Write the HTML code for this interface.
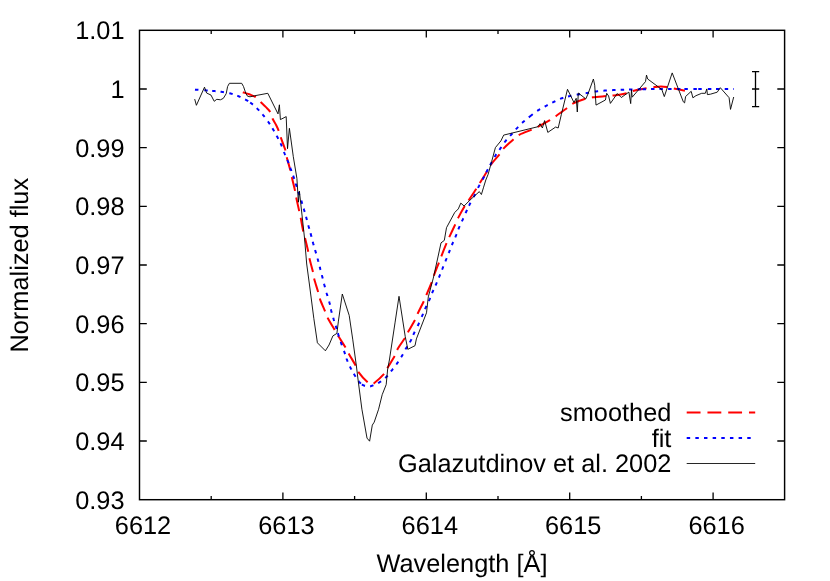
<!DOCTYPE html>
<html><head><meta charset="utf-8"><title>plot</title>
<style>html,body{margin:0;padding:0;background:#fff;}svg{display:block;will-change:transform;}</style>
</head><body>
<svg width="830" height="581" viewBox="0 0 830 581">
<rect width="830" height="581" fill="#fff"/>
<path d="M211.2,499.7 v-3.8 M211.2,30.3 v3.8 M282.9,499.7 v-7.3 M282.9,30.3 v7.3 M354.6,499.7 v-3.8 M354.6,30.3 v3.8 M426.3,499.7 v-7.3 M426.3,30.3 v7.3 M498.0,499.7 v-3.8 M498.0,30.3 v3.8 M569.7,499.7 v-7.3 M569.7,30.3 v7.3 M641.4,499.7 v-3.8 M641.4,30.3 v3.8 M713.1,499.7 v-7.3 M713.1,30.3 v7.3 M139.5,89.0 h7.3 M784.6,89.0 h-7.3 M139.5,147.7 h7.3 M784.6,147.7 h-7.3 M139.5,206.3 h7.3 M784.6,206.3 h-7.3 M139.5,265.0 h7.3 M784.6,265.0 h-7.3 M139.5,323.7 h7.3 M784.6,323.7 h-7.3 M139.5,382.3 h7.3 M784.6,382.3 h-7.3 M139.5,441.0 h7.3 M784.6,441.0 h-7.3" stroke="#000" stroke-width="1.3" fill="none"/>
<path d="M242.80,92.20 C243.88,92.55 247.13,93.48 249.30,94.30 C251.47,95.12 253.93,95.83 255.80,97.10 C257.67,98.37 258.85,100.27 260.50,101.90 C262.15,103.53 264.07,105.22 265.70,106.90 C267.33,108.58 269.17,110.07 270.30,112.00 C271.43,113.93 271.53,116.33 272.50,118.50 C273.47,120.67 275.07,122.95 276.10,125.00 C277.13,127.05 277.88,128.63 278.70,130.80 C279.52,132.97 279.85,134.65 281.00,138.00 C282.15,141.35 284.63,147.67 285.60,150.90 C286.57,154.13 286.00,154.15 286.80,157.40 C287.60,160.65 289.50,166.83 290.40,170.40 C291.30,173.97 291.43,175.43 292.20,178.80 C292.97,182.17 294.32,187.42 295.00,190.60 C295.68,193.78 295.60,194.48 296.30,197.90 C297.00,201.32 298.45,207.68 299.20,211.10 C299.95,214.52 300.13,215.05 300.80,218.40 C301.47,221.75 302.47,227.82 303.20,231.20 C303.93,234.58 304.38,235.40 305.20,238.70 C306.02,242.00 307.37,247.62 308.10,251.00 C308.83,254.38 308.82,255.62 309.60,259.00 C310.38,262.38 312.02,267.93 312.80,271.30 C313.58,274.67 313.43,275.83 314.30,279.20 C315.17,282.57 317.05,288.18 318.00,291.50 C318.95,294.82 318.82,295.77 320.00,299.10 C321.18,302.43 323.77,308.27 325.10,311.50 C326.43,314.73 326.38,315.40 328.00,318.50 C329.62,321.60 333.07,327.13 334.80,330.10 C336.53,333.07 336.60,333.38 338.40,336.30 C340.20,339.22 343.80,344.58 345.60,347.60 C347.40,350.62 347.53,351.42 349.20,354.40 C350.87,357.38 354.02,362.52 355.60,365.50 C357.18,368.48 356.68,369.48 358.70,372.30 C360.72,375.12 365.65,380.47 367.70,382.40 C369.75,384.33 369.85,383.83 371.00,383.90 C372.15,383.97 372.38,384.50 374.60,382.80 C376.82,381.10 382.08,376.28 384.30,373.70 C386.52,371.12 386.15,370.28 387.90,367.30 C389.65,364.32 393.13,358.92 394.80,355.80 C396.47,352.68 396.10,351.73 397.90,348.60 C399.70,345.47 403.82,339.92 405.60,337.00 C407.38,334.08 407.00,334.02 408.60,331.10 C410.20,328.18 413.62,322.55 415.20,319.50 C416.78,316.45 416.65,315.88 418.10,312.80 C419.55,309.72 422.45,304.13 423.90,301.00 C425.35,297.87 425.47,297.22 426.80,294.00 C428.13,290.78 430.65,284.95 431.90,281.70 C433.15,278.45 433.10,277.75 434.30,274.50 C435.50,271.25 437.85,265.43 439.10,262.20 C440.35,258.97 440.53,258.32 441.80,255.10 C443.07,251.88 445.40,246.02 446.70,242.90 C448.00,239.78 448.15,239.53 449.60,236.40 C451.05,233.27 453.95,227.23 455.40,224.10 C456.85,220.97 456.73,220.62 458.30,217.60 C459.87,214.58 462.98,209.02 464.80,206.00 C466.62,202.98 467.27,202.38 469.20,199.50 C471.13,196.62 474.55,191.57 476.40,188.70 C478.25,185.83 478.47,185.28 480.30,182.30 C482.13,179.32 485.50,173.92 487.40,170.80 C489.30,167.68 489.65,166.37 491.70,163.60 C493.75,160.83 497.70,156.73 499.70,154.20 C501.70,151.67 501.42,150.87 503.70,148.40 C505.98,145.93 510.75,141.70 513.40,139.40 C516.05,137.10 516.53,136.23 519.60,134.60 C522.67,132.97 528.62,130.98 531.80,129.60 C534.98,128.22 535.68,127.88 538.70,126.30 C541.72,124.72 546.95,121.85 549.90,120.10 C552.85,118.35 553.58,117.78 556.40,115.80 C559.22,113.82 563.98,110.27 566.80,108.20 C569.62,106.13 570.17,104.98 573.30,103.40 C576.43,101.82 582.35,99.72 585.60,98.70 C588.85,97.68 589.43,97.73 592.80,97.30 C596.17,96.87 602.23,96.42 605.80,96.10 C609.37,95.78 610.58,95.92 614.20,95.40 C617.82,94.88 624.05,93.82 627.50,93.00 C630.95,92.18 631.68,91.30 634.90,90.50 C638.12,89.70 643.53,88.77 646.80,88.20 C650.07,87.63 652.13,87.38 654.50,87.10 C656.87,86.82 658.92,86.50 661.00,86.50 C663.08,86.50 664.63,86.73 667.00,87.10 C669.37,87.47 672.22,88.10 675.20,88.70 C678.18,89.30 683.28,90.37 684.90,90.70" stroke="#ff0000" stroke-width="2" fill="none" stroke-dasharray="13.84 6.92"/>
<path d="M194.98,89.61 L195.04,89.62 L195.31,89.63 L195.61,89.65 L195.95,89.68 L196.32,89.70 L196.71,89.73 L197.12,89.75 L197.56,89.78 L198.01,89.81 L198.43,89.84 M204.26,90.23 L204.36,90.24 L204.79,90.27 L205.20,90.30 L205.60,90.33 L205.98,90.36 L206.37,90.39 L206.75,90.41 L207.12,90.44 L207.49,90.47 L207.71,90.48 M212.18,90.84 L212.47,90.87 L212.82,90.90 L213.18,90.93 L213.54,90.97 L213.90,91.00 L214.26,91.04 L214.63,91.07 L214.99,91.11 L215.35,91.14 L215.62,91.17 M220.53,91.71 L220.81,91.75 L221.17,91.80 L221.53,91.84 L221.89,91.89 L222.24,91.95 L222.60,92.00 L222.96,92.05 L223.31,92.11 L223.67,92.16 L223.95,92.21 M229.32,93.18 L229.62,93.25 L229.96,93.33 L230.31,93.42 L230.65,93.51 L231.00,93.60 L231.35,93.70 L231.69,93.79 L232.04,93.89 L232.38,94.00 L232.66,94.08 M237.27,95.70 L237.53,95.81 L237.86,95.94 L238.20,96.08 L238.53,96.22 L238.87,96.36 L239.20,96.50 L239.53,96.64 L239.87,96.79 L240.21,96.94 L240.45,97.06 M245.12,99.41 L245.18,99.44 L245.49,99.61 L245.78,99.77 L246.07,99.93 L246.36,100.09 L246.63,100.25 L246.90,100.40 L247.16,100.55 L247.40,100.69 L247.64,100.83 L247.87,100.96 L248.09,101.09 L248.13,101.12 M250.20,102.47 L250.38,102.60 L250.57,102.74 L250.76,102.89 L250.96,103.04 L251.16,103.19 L251.37,103.35 L251.58,103.52 L251.80,103.70 L252.03,103.88 L252.26,104.07 L252.49,104.26 L252.72,104.46 L252.91,104.62 M256.73,108.13 L256.95,108.34 L257.20,108.59 L257.45,108.85 L257.70,109.10 L257.95,109.36 L258.20,109.62 L258.46,109.88 L258.72,110.15 L258.97,110.42 L259.15,110.61 M262.45,114.29 L262.59,114.45 L262.84,114.74 L263.08,115.04 L263.33,115.33 L263.56,115.61 L263.80,115.90 L264.03,116.19 L264.26,116.47 L264.49,116.75 L264.65,116.96 M267.92,121.38 L268.09,121.63 L268.29,121.92 L268.50,122.21 L268.70,122.50 L268.90,122.80 L269.10,123.10 L269.30,123.39 L269.50,123.69 L269.70,123.99 L269.86,124.24 M272.43,128.31 L272.59,128.58 L272.77,128.88 L272.96,129.19 L273.14,129.49 L273.32,129.80 L273.50,130.10 L273.68,130.40 L273.86,130.70 L274.03,131.00 L274.20,131.29 M276.69,135.77 L276.70,135.80 L276.86,136.10 L277.02,136.40 L277.18,136.70 L277.34,137.00 L277.50,137.30 L277.66,137.60 L277.81,137.89 L277.97,138.19 L278.12,138.48 L278.28,138.77 L278.31,138.83 M280.54,143.26 L280.66,143.51 L280.80,143.84 L280.95,144.17 L281.10,144.50 L281.25,144.84 L281.40,145.19 L281.54,145.55 L281.69,145.91 L281.84,146.27 L281.90,146.44 M283.97,151.89 L284.02,152.04 L284.17,152.41 L284.31,152.78 L284.46,153.14 L284.60,153.50 L284.74,153.85 L284.89,154.20 L285.03,154.55 L285.18,154.89 L285.27,155.10 M287.34,159.90 L287.46,160.18 L287.60,160.51 L287.73,160.84 L287.87,161.17 L288.00,161.50 L288.13,161.83 L288.26,162.16 L288.39,162.49 L288.51,162.82 L288.62,163.11 M290.31,167.77 L290.43,168.09 L290.55,168.42 L290.66,168.75 L290.78,169.07 L290.90,169.40 L291.02,169.73 L291.14,170.05 L291.26,170.38 L291.37,170.70 L291.49,171.02 L291.49,171.02 M293.14,175.56 L293.25,175.87 L293.36,176.20 L293.47,176.53 L293.59,176.87 L293.70,177.20 L293.81,177.54 L293.92,177.87 L294.03,178.21 L294.14,178.55 L294.24,178.84 M295.68,183.50 L295.76,183.76 L295.86,184.11 L295.97,184.46 L296.08,184.81 L296.19,185.15 L296.30,185.50 L296.41,185.85 L296.52,186.19 L296.63,186.54 L296.72,186.80 M298.35,191.81 L298.43,192.06 L298.54,192.41 L298.66,192.76 L298.77,193.10 L298.89,193.45 L299.00,193.80 L299.12,194.15 L299.23,194.50 L299.35,194.85 L299.43,195.09 M301.27,200.55 L301.36,200.82 L301.47,201.16 L301.58,201.51 L301.69,201.86 L301.80,202.20 L301.91,202.54 L302.01,202.89 L302.12,203.23 L302.22,203.57 L302.31,203.85 M303.72,208.64 L303.81,208.95 L303.91,209.29 L304.00,209.63 L304.10,209.96 L304.20,210.30 L304.30,210.64 L304.40,210.97 L304.49,211.31 L304.59,211.64 L304.68,211.96 M306.04,216.73 L306.12,217.02 L306.21,217.36 L306.31,217.71 L306.40,218.05 L306.50,218.40 L306.60,218.75 L306.69,219.10 L306.79,219.46 L306.88,219.81 L306.95,220.07 M308.35,225.33 L308.42,225.60 L308.52,225.95 L308.61,226.30 L308.71,226.65 L308.80,227.00 L308.89,227.34 L308.99,227.69 L309.08,228.03 L309.17,228.36 L309.26,228.67 M310.55,233.33 L310.63,233.64 L310.73,233.98 L310.82,234.32 L310.91,234.66 L311.00,235.00 L311.09,235.34 L311.18,235.69 L311.27,236.04 L311.36,236.39 L311.44,236.67 M312.75,241.83 L312.82,242.09 L312.92,242.45 L313.01,242.80 L313.10,243.15 L313.20,243.50 L313.30,243.85 L313.39,244.19 L313.49,244.54 L313.59,244.88 L313.67,245.16 M315.11,250.04 L315.20,250.33 L315.30,250.67 L315.40,251.01 L315.50,251.35 L315.60,251.70 L315.70,252.05 L315.80,252.39 L315.90,252.74 L316.00,253.09 L316.08,253.36 M317.54,258.43 L317.62,258.70 L317.71,259.05 L317.81,259.40 L317.91,259.75 L318.00,260.10 L318.09,260.45 L318.19,260.79 L318.28,261.14 L318.37,261.49 L318.44,261.77 M319.68,266.72 L319.75,267.01 L319.83,267.36 L319.92,267.71 L320.01,268.05 L320.10,268.40 L320.19,268.75 L320.28,269.10 L320.37,269.44 L320.46,269.79 L320.54,270.07 M321.87,275.13 L321.93,275.38 L322.02,275.73 L322.12,276.09 L322.21,276.44 L322.30,276.80 L322.39,277.16 L322.48,277.51 L322.57,277.87 L322.66,278.23 L322.72,278.48 M324.06,283.83 L324.12,284.03 L324.21,284.40 L324.31,284.77 L324.40,285.13 L324.50,285.50 L324.60,285.87 L324.70,286.24 L324.80,286.60 L324.90,286.97 L324.95,287.17 M326.52,292.74 L326.57,292.93 L326.68,293.30 L326.79,293.66 L326.89,294.03 L327.00,294.40 L327.11,294.77 L327.22,295.13 L327.33,295.50 L327.44,295.87 L327.50,296.06 M329.14,301.43 L329.22,301.70 L329.32,302.05 L329.41,302.40 L329.51,302.75 L329.60,303.10 L329.69,303.44 L329.77,303.78 L329.85,304.12 L329.93,304.46 L330.00,304.78 M330.91,309.31 L330.92,309.34 L330.99,309.66 L331.06,309.99 L331.14,310.33 L331.22,310.66 L331.30,311.00 L331.39,311.34 L331.48,311.68 L331.57,312.03 L331.66,312.38 L331.74,312.67 M333.20,317.74 L333.29,318.02 L333.39,318.37 L333.49,318.71 L333.60,319.06 L333.70,319.40 L333.80,319.74 L333.91,320.08 L334.01,320.42 L334.11,320.76 L334.20,321.05 M335.69,325.75 L335.70,325.77 L335.80,326.10 L335.90,326.43 L336.00,326.75 L336.10,327.08 L336.20,327.40 L336.30,327.72 L336.39,328.04 L336.48,328.35 L336.58,328.67 L336.67,328.97 L336.69,329.06 M337.89,333.25 L337.90,333.27 L338.00,333.59 L338.09,333.91 L338.19,334.23 L338.30,334.56 L338.40,334.90 L338.51,335.24 L338.62,335.59 L338.73,335.94 L338.84,336.29 L338.93,336.55 M340.73,341.97 L340.81,342.18 L340.93,342.54 L341.06,342.90 L341.18,343.25 L341.30,343.60 L341.42,343.94 L341.54,344.28 L341.66,344.62 L341.78,344.95 L341.88,345.23 M343.99,350.91 L344.08,351.16 L344.20,351.50 L344.32,351.85 L344.44,352.20 L344.56,352.55 L344.68,352.90 L344.80,353.26 L344.91,353.62 L345.03,353.99 L345.10,354.19 M346.50,358.48 L346.59,358.72 L346.71,359.07 L346.84,359.42 L346.97,359.76 L347.10,360.10 L347.23,360.44 L347.36,360.77 L347.50,361.10 L347.63,361.43 L347.74,361.71 M349.89,366.47 L350.03,366.76 L350.19,367.07 L350.34,367.39 L350.50,367.70 L350.66,368.01 L350.82,368.33 L350.98,368.65 L351.15,368.96 L351.32,369.28 L351.46,369.55 M353.81,373.72 L353.97,373.99 L354.15,374.30 L354.33,374.60 L354.52,374.90 L354.70,375.20 L354.88,375.50 L355.07,375.80 L355.26,376.11 L355.45,376.41 L355.61,376.67 M358.55,381.07 L358.56,381.08 L358.75,381.32 L358.93,381.56 L359.12,381.78 L359.30,382.00 L359.48,382.21 L359.65,382.40 L359.83,382.60 L359.99,382.78 L360.16,382.95 L360.32,383.12 L360.49,383.28 L360.65,383.44 L360.81,383.59 L360.86,383.64 M361.89,384.46 L361.94,384.49 L362.11,384.60 L362.28,384.71 L362.46,384.82 L362.64,384.92 L362.82,385.02 L363.01,385.11 L363.20,385.21 L363.40,385.30 L363.61,385.39 L363.82,385.47 L364.05,385.55 L364.28,385.63 L364.53,385.70 L364.77,385.76 L365.02,385.83 L365.04,385.83 M370.16,386.45 L370.17,386.45 L370.23,386.43 L370.31,386.40 L370.40,386.36 L370.51,386.32 L370.62,386.27 L370.76,386.21 L370.92,386.15 L371.10,386.08 L371.30,386.00 L371.53,385.91 L371.77,385.82 L372.03,385.71 L372.32,385.60 L372.61,385.49 L372.92,385.36 L373.25,385.24 L373.38,385.18 M378.10,383.06 L378.31,382.95 L378.65,382.77 L378.98,382.59 L379.30,382.40 L379.61,382.21 L379.92,382.02 L380.22,381.83 L380.53,381.63 L380.83,381.44 L381.06,381.28 M385.21,378.03 L385.40,377.86 L385.67,377.61 L385.93,377.35 L386.20,377.10 L386.46,376.84 L386.72,376.58 L386.98,376.30 L387.24,376.03 L387.49,375.75 L387.64,375.58 M390.94,371.46 L391.09,371.27 L391.32,370.97 L391.54,370.68 L391.77,370.39 L392.00,370.10 L392.23,369.82 L392.45,369.53 L392.67,369.25 L392.89,368.98 L393.08,368.75 M396.31,364.51 L396.48,364.28 L396.68,363.99 L396.89,363.70 L397.10,363.40 L397.31,363.10 L397.52,362.80 L397.73,362.50 L397.94,362.19 L398.14,361.88 L398.28,361.67 M401.11,357.28 L401.22,357.09 L401.42,356.77 L401.61,356.45 L401.81,356.12 L402.00,355.80 L402.19,355.48 L402.38,355.15 L402.57,354.82 L402.75,354.49 L402.86,354.30 M405.46,349.41 L405.58,349.18 L405.76,348.86 L405.94,348.53 L406.12,348.22 L406.30,347.90 L406.48,347.59 L406.67,347.28 L406.85,346.97 L407.04,346.66 L407.19,346.42 M409.85,342.21 L409.85,342.20 L410.03,341.90 L410.20,341.60 L410.37,341.30 L410.54,341.00 L410.70,340.70 L410.86,340.40 L411.01,340.09 L411.16,339.79 L411.30,339.49 L411.45,339.19 L411.46,339.15 M413.29,334.88 L413.42,334.58 L413.56,334.26 L413.70,333.95 L413.85,333.62 L414.00,333.30 L414.16,332.97 L414.31,332.65 L414.47,332.32 L414.64,331.99 L414.76,331.75 M417.71,325.92 L417.76,325.83 L417.93,325.47 L418.10,325.10 L418.27,324.73 L418.44,324.35 L418.62,323.97 L418.79,323.59 L418.97,323.19 L419.14,322.80 L419.15,322.78 M421.67,316.93 L421.72,316.81 L421.88,316.43 L422.04,316.06 L422.20,315.70 L422.35,315.34 L422.51,314.99 L422.66,314.64 L422.80,314.30 L422.95,313.96 L423.03,313.75 M425.04,309.05 L425.16,308.78 L425.30,308.46 L425.45,308.13 L425.60,307.80 L425.75,307.47 L425.90,307.14 L426.06,306.80 L426.22,306.47 L426.38,306.14 L426.49,305.90 M428.83,301.05 L428.95,300.80 L429.10,300.46 L429.25,300.13 L429.40,299.80 L429.54,299.47 L429.69,299.14 L429.83,298.81 L429.96,298.48 L430.10,298.15 L430.21,297.87 M432.07,293.16 L432.18,292.89 L432.32,292.56 L432.46,292.23 L432.60,291.90 L432.74,291.57 L432.89,291.24 L433.03,290.90 L433.18,290.57 L433.33,290.24 L433.44,289.99 M435.50,285.48 L435.61,285.23 L435.76,284.90 L435.91,284.56 L436.06,284.23 L436.20,283.90 L436.34,283.57 L436.49,283.24 L436.63,282.91 L436.77,282.58 L436.88,282.31 M438.84,277.60 L438.96,277.32 L439.09,276.99 L439.23,276.66 L439.36,276.33 L439.50,276.00 L439.64,275.67 L439.77,275.34 L439.90,275.01 L440.04,274.67 L440.15,274.40 M442.06,269.61 L442.16,269.35 L442.30,269.01 L442.43,268.67 L442.56,268.34 L442.70,268.00 L442.84,267.66 L442.97,267.32 L443.11,266.98 L443.24,266.64 L443.34,266.39 M445.35,261.40 L445.45,261.17 L445.59,260.83 L445.72,260.48 L445.86,260.14 L446.00,259.80 L446.14,259.46 L446.28,259.12 L446.41,258.77 L446.55,258.43 L446.65,258.20 M448.66,253.21 L448.76,252.96 L448.89,252.62 L449.03,252.28 L449.16,251.94 L449.30,251.60 L449.44,251.26 L449.57,250.93 L449.70,250.59 L449.84,250.25 L449.94,249.99 M451.84,245.20 L451.96,244.93 L452.09,244.59 L452.23,244.26 L452.36,243.93 L452.50,243.60 L452.64,243.27 L452.78,242.94 L452.92,242.61 L453.06,242.28 L453.18,242.01 M455.23,237.30 L455.35,237.02 L455.49,236.69 L455.63,236.36 L455.76,236.03 L455.90,235.70 L456.03,235.37 L456.17,235.04 L456.30,234.70 L456.43,234.37 L456.54,234.09 M458.35,229.30 L458.46,229.03 L458.59,228.70 L458.73,228.36 L458.86,228.03 L459.00,227.70 L459.14,227.37 L459.28,227.04 L459.43,226.71 L459.57,226.38 L459.69,226.11 M461.88,221.37 L461.99,221.14 L462.14,220.81 L462.29,220.47 L462.45,220.14 L462.60,219.80 L462.75,219.46 L462.91,219.12 L463.06,218.78 L463.21,218.43 L463.31,218.22 M465.59,213.08 L465.69,212.85 L465.84,212.51 L465.99,212.17 L466.15,211.83 L466.30,211.50 L466.45,211.17 L466.60,210.84 L466.75,210.52 L466.90,210.20 L467.02,209.93 M468.97,205.78 L469.11,205.50 L469.26,205.18 L469.42,204.86 L469.58,204.55 L469.74,204.22 L469.90,203.90 L470.07,203.57 L470.23,203.25 L470.41,202.92 L470.53,202.69 M473.58,197.09 L473.67,196.93 L473.85,196.59 L474.02,196.25 L474.20,195.90 L474.37,195.55 L474.55,195.20 L474.72,194.84 L474.90,194.49 L475.07,194.12 L475.13,194.00 M478.01,187.88 L478.13,187.63 L478.30,187.30 L478.47,186.97 L478.64,186.66 L478.80,186.34 L478.97,186.04 L479.13,185.73 L479.30,185.43 L479.46,185.14 L479.63,184.85 L479.64,184.83 M482.58,179.57 L482.65,179.43 L482.83,179.09 L483.01,178.74 L483.19,178.39 L483.37,178.03 L483.56,177.67 L483.74,177.31 L483.93,176.95 L484.11,176.58 L484.16,176.49 M486.26,172.35 L486.34,172.20 L486.52,171.85 L486.70,171.50 L486.88,171.16 L487.06,170.82 L487.24,170.48 L487.42,170.14 L487.60,169.81 L487.78,169.48 L487.88,169.29 M490.17,165.12 L490.28,164.91 L490.46,164.59 L490.64,164.26 L490.82,163.93 L491.00,163.60 L491.18,163.27 L491.36,162.93 L491.54,162.60 L491.72,162.26 L491.82,162.08 M494.52,157.09 L494.63,156.89 L494.82,156.56 L495.01,156.24 L495.21,155.92 L495.40,155.60 L495.60,155.28 L495.80,154.97 L496.00,154.66 L496.20,154.35 L496.34,154.15 M499.40,149.81 L499.55,149.60 L499.77,149.30 L499.98,149.00 L500.19,148.70 L500.40,148.40 L500.61,148.10 L500.82,147.79 L501.03,147.49 L501.24,147.18 L501.38,146.97 M504.46,142.48 L504.61,142.27 L504.83,141.97 L505.05,141.68 L505.27,141.39 L505.50,141.10 L505.73,140.81 L505.96,140.53 L506.19,140.25 L506.43,139.97 L506.60,139.77 M510.14,135.88 L510.33,135.67 L510.57,135.41 L510.82,135.14 L511.06,134.87 L511.30,134.60 L511.54,134.33 L511.78,134.06 L512.02,133.78 L512.25,133.51 L512.44,133.30 M515.83,129.38 L516.05,129.14 L516.28,128.88 L516.52,128.62 L516.76,128.36 L517.00,128.10 L517.24,127.85 L517.47,127.59 L517.71,127.35 L517.94,127.10 L518.16,126.86 L518.18,126.84 M522.10,122.93 L522.24,122.81 L522.52,122.55 L522.80,122.30 L523.09,122.04 L523.39,121.78 L523.70,121.51 L524.01,121.25 L524.33,120.98 L524.66,120.70 L524.71,120.66 M528.78,117.38 L528.78,117.38 L529.13,117.11 L529.47,116.84 L529.81,116.57 L530.14,116.31 L530.47,116.05 L530.80,115.80 L531.12,115.55 L531.44,115.30 L531.51,115.25 M530.08,116.36 L530.14,116.31 L530.47,116.05 L530.80,115.80 L531.12,115.55 L531.44,115.30 L531.76,115.05 L532.07,114.80 L532.39,114.55 L532.70,114.31 L532.80,114.23 M537.18,110.95 L537.35,110.84 L537.66,110.62 L537.98,110.41 L538.30,110.20 L538.62,109.99 L538.95,109.79 L539.27,109.59 L539.60,109.39 L539.92,109.20 L540.10,109.09 M544.67,106.61 L544.90,106.49 L545.22,106.32 L545.55,106.15 L545.88,105.97 L546.20,105.80 L546.52,105.63 L546.84,105.46 L547.16,105.29 L547.48,105.12 L547.73,104.99 M552.25,102.66 L552.52,102.53 L552.84,102.37 L553.16,102.21 L553.48,102.06 L553.80,101.90 L554.12,101.74 L554.45,101.59 L554.77,101.43 L555.10,101.27 L555.35,101.14 M560.09,98.93 L560.37,98.82 L560.71,98.68 L561.04,98.55 L561.37,98.42 L561.70,98.30 L562.03,98.18 L562.36,98.07 L562.69,97.95 L563.02,97.85 L563.34,97.74 M568.02,96.49 L568.33,96.42 L568.67,96.34 L569.01,96.26 L569.35,96.18 L569.70,96.10 L570.05,96.02 L570.40,95.94 L570.75,95.86 L571.11,95.78 L571.39,95.73 M576.70,94.71 L576.95,94.66 L577.31,94.59 L577.68,94.53 L578.04,94.46 L578.40,94.40 L578.76,94.34 L579.12,94.27 L579.48,94.21 L579.84,94.15 L580.10,94.11 M585.65,93.22 L585.92,93.18 L586.28,93.12 L586.64,93.06 L587.00,93.00 L587.36,92.94 L587.72,92.88 L588.08,92.81 L588.44,92.75 L588.81,92.68 L589.06,92.64 M594.71,91.64 L594.97,91.60 L595.34,91.55 L595.70,91.50 L596.06,91.45 L596.42,91.40 L596.79,91.36 L597.15,91.31 L597.51,91.27 L597.88,91.22 L598.14,91.19 M603.40,90.68 L603.67,90.66 L604.04,90.63 L604.40,90.60 L604.76,90.57 L605.13,90.54 L605.49,90.52 L605.85,90.49 L606.21,90.47 L606.58,90.44 L606.85,90.42 M612.09,90.15 L612.38,90.13 L612.74,90.12 L613.10,90.10 L613.46,90.08 L613.82,90.07 L614.18,90.05 L614.54,90.04 L614.90,90.02 L615.25,90.01 L615.55,90.00 M620.69,89.83 L620.98,89.82 L621.34,89.81 L621.70,89.80 L622.06,89.79 L622.42,89.77 L622.78,89.76 L623.14,89.75 L623.51,89.74 L623.87,89.72 L624.15,89.71 M629.03,89.54 L629.31,89.53 L629.67,89.52 L630.04,89.51 L630.40,89.50 L630.76,89.49 L631.12,89.48 L631.49,89.47 L631.85,89.46 L632.21,89.45 L632.49,89.44 M637.73,89.33 L638.01,89.32 L638.38,89.32 L638.74,89.31 L639.10,89.30 L639.46,89.29 L639.81,89.28 L640.16,89.27 L640.51,89.27 L640.85,89.26 L641.19,89.25 M642.55,89.21 L642.89,89.20 L643.23,89.19 L643.58,89.18 L643.93,89.18 L644.28,89.17 L644.64,89.16 L645.01,89.15 L645.38,89.14 L645.76,89.14 L646.01,89.13 M651.04,89.05 L651.23,89.05 L651.57,89.04 L651.94,89.04 L652.34,89.03 L652.77,89.03 L653.24,89.03 L653.74,89.02 L654.30,89.02 L654.50,89.02 M659.41,89.00 L660.00,89.00 L661.14,89.00 L662.38,89.00 L662.87,89.00 M668.10,88.99 L668.20,88.99 L669.83,88.99 L671.51,88.99 L671.56,88.99 M676.93,88.99 L678.66,88.99 L680.39,88.99 M684.38,89.00 L686.11,89.00 L687.84,89.00 M693.39,89.00 L695.12,89.00 L696.80,89.00 L696.85,89.00 M698.27,89.00 L698.43,89.00 L700.00,89.00 L701.55,89.00 L701.73,89.00 M707.91,89.00 L708.00,89.00 L709.64,89.00 L711.28,89.00 L711.37,89.00 M716.01,89.00 L716.16,89.00 L717.74,89.00 L719.30,89.00 L719.47,89.00 M724.72,89.00 L725.13,89.00 L726.45,89.00 L727.71,89.00 L728.18,89.00 M733.3,89 h0.6" stroke="#0000ff" stroke-width="2" fill="none"/>
<path d="M194.7,99.1 L196.4,105.3 L204.5,87.2 L206.6,93.0 L211.0,95.1 L214.2,101.3 L216.8,99.3 L220.4,99.8 L223.3,98.4 L226.2,93.7 L227.6,86.5 L229.4,83.3 L241.7,83.3 L243.5,86.5 L245.7,93.0 L247.5,96.2 L250.0,96.8 L254.4,95.8 L267.8,93.3 L278.0,113.9 L279.4,104.8 L280.4,119.6 L286.2,116.6 L287.5,148.7 L289.4,128.3 L293.3,156.7 L296.9,178.4 L298.4,202.2 L299.4,191.1 L303.1,225.0 L304.5,238.0 L306.7,264.0 L309.5,285.0 L313.8,318.3 L317.4,342.8 L325.4,350.8 L329.0,345.0 L332.9,335.9 L336.9,333.4 L338.4,321.1 L342.3,294.0 L349.2,315.4 L352.8,339.9 L356.4,366.0 L358.3,381.7 L361.9,409.2 L367.0,438.1 L369.6,441.2 L372.3,425.1 L374.2,422.2 L378.6,409.2 L382.2,394.7 L386.2,384.6 L387.7,368.7 L389.4,360.0 L395.0,322.9 L399.0,296.3 L405.2,336.3 L407.8,349.3 L415.0,345.7 L416.4,338.9 L426.5,312.8 L428.3,296.9 L433.3,278.1 L438.4,255.0 L441.0,242.9 L444.3,240.4 L446.5,227.7 L454.7,212.5 L458.3,208.9 L460.8,203.1 L464.1,206.0 L469.9,200.2 L479.3,191.6 L481.4,194.5 L483.6,187.2 L485.8,180.0 L488.1,174.4 L491.7,161.4 L495.4,147.6 L500.9,140.9 L503.7,135.1 L538.0,126.7 L540.0,123.7 L542.4,128.0 L544.6,120.6 L547.8,132.4 L555.7,127.0 L558.2,128.0 L561.4,114.3 L567.5,89.3 L574.0,102.6 L576.2,98.3 L577.3,112.0 L578.3,93.0 L585.8,98.9 L588.0,93.9 L593.4,79.0 L594.7,85.2 L596.0,105.1 L605.4,100.0 L606.7,93.3 L608.6,96.0 L610.4,103.4 L617.3,93.5 L621.3,97.5 L628.9,92.1 L630.7,103.6 L631.5,89.7 L632.2,97.2 L645.5,81.6 L646.5,75.1 L647.7,79.0 L661.8,89.5 L664.3,96.6 L672.2,72.9 L683.3,101.8 L684.6,102.9 L685.6,96.5 L691.2,91.3 L692.9,97.8 L695.9,95.7 L701.7,93.3 L705.3,93.3 L706.8,88.9 L707.4,94.6 L710.4,94.2 L717.2,92.2 L720.3,87.7 L729.1,97.7 L730.5,109.4 L733.7,97.0" stroke="#000" stroke-width="0.9" fill="none" stroke-linejoin="miter"/>
<path d="M755.5,71.6 V106.7 M752,71.6 h7.2 M752,89.0 h7.2 M752,106.7 h7.2" stroke="#000" stroke-width="1.3" fill="none"/>
<rect x="139.5" y="30.3" width="645.1" height="469.4" fill="none" stroke="#000" stroke-width="1.45"/>
<path d="M686.7,412.6 H755.2" stroke="#ff0000" stroke-width="2" stroke-dasharray="13.84 6.92"/>
<path d="M686.7,438.1 H755.2" stroke="#0000ff" stroke-width="2" stroke-dasharray="3.46 5.19"/>
<path d="M686.7,463.5 H755.2" stroke="#000" stroke-width="0.85"/>
<g font-family="'Liberation Sans', sans-serif" font-size="25.35" fill="#000" text-rendering="geometricPrecision">
<text x="124.5" y="39.1" text-anchor="end">1.01</text>
<text x="124.5" y="97.8" text-anchor="end">1</text>
<text x="124.5" y="156.5" text-anchor="end">0.99</text>
<text x="124.5" y="215.1" text-anchor="end">0.98</text>
<text x="124.5" y="273.8" text-anchor="end">0.97</text>
<text x="124.5" y="332.5" text-anchor="end">0.96</text>
<text x="124.5" y="391.1" text-anchor="end">0.95</text>
<text x="124.5" y="449.8" text-anchor="end">0.94</text>
<text x="124.5" y="508.5" text-anchor="end">0.93</text>
<text x="143.0" y="533.5" text-anchor="middle">6612</text>
<text x="286.4" y="533.5" text-anchor="middle">6613</text>
<text x="429.8" y="533.5" text-anchor="middle">6614</text>
<text x="573.2" y="533.5" text-anchor="middle">6615</text>
<text x="716.6" y="533.5" text-anchor="middle">6616</text>
<text x="462" y="572" text-anchor="middle">Wavelength [&#197;]</text>
<text transform="translate(28.0,265.2) rotate(-90)" text-anchor="middle">Normalized flux</text>
<text x="671.4" y="421.1" text-anchor="end">smoothed</text>
<text x="671.4" y="446.9" text-anchor="end">fit</text>
<text x="671.4" y="472.3" text-anchor="end">Galazutdinov et al. 2002</text>
</g>
</svg>
</body></html>
